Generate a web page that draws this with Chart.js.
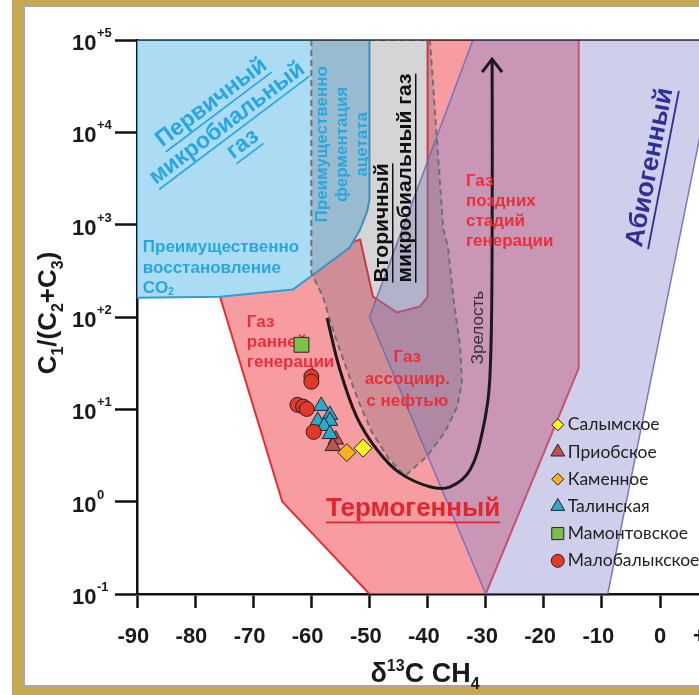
<!DOCTYPE html>
<html>
<head>
<meta charset="utf-8">
<script src="https://cdn.jsdelivr.net/npm/chart.js@4.4.1/dist/chart.umd.min.js"></script>
<style>
html, body { margin: 0; padding: 0; background: #fff; overflow: hidden; }
#wrap { position: relative; width: 699px; height: 695px; }
.gold { position: absolute; background: #c6a94f; }
#inner { position: absolute; left: 23px; top: 5px; width: 676px; height: 682px; box-sizing: border-box;
  border-left: 2px solid #a8a8a8; border-top: 2px solid #a8a8a8; border-bottom: 2px solid #a8a8a8; }
canvas { position: absolute; left: 0; top: 0; }
</style>
</head>
<body>
<div id="wrap">
  <div class="gold" style="left:12px;top:0;width:11px;height:695px"></div>
  <div class="gold" style="left:12px;top:0;width:687px;height:5px"></div>
  <div class="gold" style="left:12px;top:687px;width:687px;height:8px"></div>
  <div id="inner"></div>
  <canvas id="grafico" width="699" height="695"></canvas>
</div>
<script>
// оси
const xTicks = [-90, -80, -70, -60, -50, -40, -30, -20, -10, 0, 10];
const yTicks = [0.1, 1, 10, 100, 1000, 10000, 100000];
const yTickExp = ['-1', '0', '+1', '+2', '+3', '+4', '+5'];

// границы областей
const thermoX = [-40, -14, -14, -30, -50, -65, -76, -51.6, -49.4, -45.3, -41.3, -40, -40];
const thermoY = [1e5, 1e5, 28, 0.1, 0.1, 1.0, 190, 692, 166, 112, 130, 166, 1e5];
const abioX = [-32.2, -50, -30, -9, 10.2, -32.2];
const abioY = [1e5, 100, 0.1, 0.1, 1e5, 1e5];
const microX = [-90, -50, -50, -50.4, -51.6, -53.4, -59.4, -63.2, -75.7, -90, -90];
const microY = [1e5, 1e5, 1875, 1390, 887, 566, 296, 198, 166, 162, 1e5];
const secX = [-60, -60, -58.0, -56.3, -54.2, -52.0, -49.6, -46.8, -43.9, -40.1, -37.0, -34.9, -34.1, -34.4, -35.6, -36.5, -37.3, -39.6, -60];
const secY = [1e5, 300, 166, 73, 30.5, 12.7, 5.7, 3.0, 1.9, 3.1, 5.7, 10.7, 19.4, 48, 166, 580, 890, 1e5, 1e5];
// кривая зрелости
const matX = [-57.3, -55.1, -52.2, -48.7, -44.8, -39.6, -36.1, -32.7, -30.5, -29.3, -28.9, -28.9];
const matY = [98, 27, 8.3, 3.65, 2.05, 1.45, 1.45, 2.2, 6.0, 21, 538, 62000];

// месторождения
const salymX = [-51.1], salymY = [3.8];
const priobX = [-55.8, -56.3], priobY = [4.7, 4.0];
const kamenX = [-53.9], kamenY = [3.4];
const talinX = [-58.3, -56.8, -56.8, -58.9, -57.8, -56.8];
const talinY = [10.9, 8.7, 7.5, 7.5, 6.6, 5.4];
const mamonX = [-61.7], mamonY = [50];
const malobX = [-60.0, -60.0, -62.4, -61.4, -60.8, -59.6];
const malobY = [22.6, 19.9, 11.2, 10.7, 10.1, 5.7];

const FONT = "'Liberation Sans', Arial, sans-serif";
const BLUE = '#27a7e0', RED = '#ea2f3a';

function pts(xs, ys) { return xs.map((x, i) => ({ x: x, y: ys[i] })); }

function area(label, xs, ys, fill, line, width, dash, order) {
    return { label: label, data: pts(xs, ys), fill: 'shape', backgroundColor: fill, borderColor: line,
        borderWidth: width, borderDash: dash, pointRadius: 0, tension: 0, order: order, borderJoinStyle: 'round' };
}
function serie(label, xs, ys, style, r, color, order) {
    return { label: label, data: pts(xs, ys), showLine: false, pointStyle: style, pointRadius: r,
        backgroundColor: color, borderColor: '#2a2020', borderWidth: 1, order: order };
}

const datasets = [
    area('thermo', thermoX, thermoY, 'rgba(240,60,70,0.5)', '#ec2a2f', 2, [], 20),
    area('abio', abioX, abioY, 'rgba(140,140,210,0.42)', 'rgba(110,110,190,0.9)', 1.5, [], 19),
    area('micro', microX, microY, '#acdcf4', '#2b9fda', 2, [], 18),
    area('sec', secX, secY, 'rgba(105,105,115,0.28)', '#707070', 2, [6, 4], 17),
    { label: 'mat', data: pts(matX, matY), fill: false, borderColor: '#1a1a1a', borderWidth: 3,
      pointRadius: 0, tension: 0.35, order: 16 },
    serie('Приобское', priobX, priobY, 'triangle', 9, '#c0504d', 6),
    serie('Талинская', talinX, talinY, 'triangle', 9, '#2aa9cb', 5),
    serie('Малобалыкское', malobX, malobY, 'circle', 7.5, '#e0392a', 4),
    serie('Каменное', kamenX, kamenY, 'rectRot', 9, '#f6b31b', 3),
    serie('Салымское', salymX, salymY, 'rectRot', 9, '#fff21c', 2),
    serie('Мамонтовское', mamonX, mamonY, 'rect', 10.5, '#79c14a', 1)
];
const MAT = 4;

const legendOrder = ['Салымское', 'Приобское', 'Каменное', 'Талинская', 'Мамонтовское', 'Малобалыкское'];
const legendR = { rectRot: 6, triangle: 8, rect: 8.5, circle: 6.5 };

// подписи областей
const notes = [
    { at: [-74.5, 12530], rot: -37, lines: ['Первичный', 'микробиальный', 'газ'], first: -26, gap: 26, size: 23, color: BLUE, align: 'center', uline: true },
    { at: [-89, 566], rot: 0, lines: ['Преимущественно', 'восстановление', [['CO', 'n'], ['2', 'sub']]], first: 0, gap: 20.5, size: 17, color: BLUE, align: 'left' },
    { at: [-54.6, 7413], rot: -90, lines: ['Преимущественно', 'ферментация', 'ацетата'], first: -20, gap: 20, size: 17, color: BLUE, align: 'center' },
    { at: [-45.9, 236], rot: -90, lines: ['Вторичный', 'микробиальный газ'], first: -11.5, gap: 23, size: 21, color: '#111', align: 'left', uline: true },
    { at: [-33.4, 2944], rot: 0, lines: ['Газ', 'поздних', 'стадий', 'генерации'], first: 0, gap: 20, size: 17, color: RED, align: 'left' },
    { at: [-1.7, 4170], rot: -79, lines: ['Абиогенный'], first: 0, gap: 0, size: 26, color: '#2e3192', align: 'center', uline: true },
    { at: [-71.1, 87], rot: 0, lines: ['Газ', 'ранней', 'генерации'], first: 0, gap: 20, size: 17, color: RED, align: 'left' },
    { at: [-43.5, 36.3], rot: 0, lines: ['Газ', 'ассоциир.', 'с нефтью'], first: 0, gap: 22, size: 17, color: RED, align: 'center' },
    { at: [-31.2, 76.7], rot: -90, lines: ['Зрелость'], first: 0, gap: 0, size: 17, color: '#333', align: 'center', weight: 'normal' },
    { at: [-42.5, 0.836], rot: 0, lines: ['Термогенный'], first: 0, gap: 0, size: 26, color: '#e3262e', align: 'center', uline: true }
];
const legendAt = [-17.6, 6.8];

function richWidth(ctx, parts, size, weight) {
    let w = 0;
    for (const [t, k] of parts) {
        ctx.font = weight + ' ' + (k === 'n' ? size : Math.round(size * 0.6)) + 'px ' + FONT;
        w += ctx.measureText(t).width;
    }
    return w;
}
function richDraw(ctx, parts, x, y, size, weight) {
    for (const [t, k] of parts) {
        ctx.font = weight + ' ' + (k === 'n' ? size : Math.round(size * 0.6)) + 'px ' + FONT;
        const dy = k === 'sub' ? size * 0.25 : (k === 'sup' ? -size * 0.4 : 0);
        ctx.fillText(t, x, y + dy);
        x += ctx.measureText(t).width;
    }
    return x;
}

function drawNote(ctx, n, px, py) {
    const weight = n.weight || 'bold';
    ctx.save();
    ctx.translate(px, py);
    ctx.rotate(n.rot * Math.PI / 180);
    ctx.fillStyle = n.color;
    ctx.strokeStyle = n.color;
    ctx.textAlign = 'left';
    ctx.textBaseline = 'middle';
    n.lines.forEach(function (ln, i) {
        const y = n.first + i * n.gap;
        const parts = typeof ln === 'string' ? [[ln, 'n']] : ln;
        const w = richWidth(ctx, parts, n.size, weight);
        const x0 = n.align === 'center' ? -w / 2 : 0;
        richDraw(ctx, parts, x0, y, n.size, weight);
        if (n.uline) {
            ctx.lineWidth = Math.max(1.2, n.size / 14);
            ctx.beginPath();
            ctx.moveTo(x0, y + n.size * 0.52);
            ctx.lineTo(x0 + w, y + n.size * 0.52);
            ctx.stroke();
        }
    });
    ctx.restore();
}

function marker(ctx, style, x, y, r, fill, stroke) {
    ctx.save();
    ctx.fillStyle = fill;
    ctx.strokeStyle = stroke;
    ctx.lineWidth = 1;
    ctx.beginPath();
    if (style === 'circle') ctx.arc(x, y, r, 0, 2 * Math.PI);
    else if (style === 'rect') ctx.rect(x - r * 0.707, y - r * 0.707, r * 1.414, r * 1.414);
    else if (style === 'rectRot') { ctx.moveTo(x, y - r); ctx.lineTo(x + r, y); ctx.lineTo(x, y + r); ctx.lineTo(x - r, y); ctx.closePath(); }
    else { ctx.moveTo(x, y - r); ctx.lineTo(x + r * 0.866, y + r * 0.5); ctx.lineTo(x - r * 0.866, y + r * 0.5); ctx.closePath(); }
    ctx.fill();
    ctx.stroke();
    ctx.restore();
}

const decor = {
    id: 'decor',
    afterDatasetDraw(chart, args) {
        if (args.index !== MAT) return;
        const ctx = chart.ctx, xs = chart.scales.x, ys = chart.scales.y;
        // наконечник стрелки
        const pp = args.meta.data;
        const tip = pp[pp.length - 1];
        ctx.save();
        ctx.strokeStyle = '#1a1a1a';
        ctx.lineWidth = 3;
        ctx.lineJoin = 'miter';
        ctx.beginPath();
        ctx.moveTo(tip.x - 10, tip.y + 13);
        ctx.lineTo(tip.x, tip.y);
        ctx.lineTo(tip.x + 10, tip.y + 13);
        ctx.stroke();
        ctx.restore();
        notes.forEach(function (n) {
            drawNote(ctx, n, xs.getPixelForValue(n.at[0]), ys.getPixelForValue(n.at[1]));
        });
    },
    afterDraw(chart) {
        const ctx = chart.ctx, xs = chart.scales.x, ys = chart.scales.y, a = chart.chartArea;
        ctx.save();
        // верхняя рамка
        ctx.strokeStyle = '#333';
        ctx.lineWidth = 1.5;
        ctx.beginPath();
        ctx.moveTo(a.left, a.top);
        ctx.lineTo(a.right, a.top);
        ctx.stroke();

        ctx.fillStyle = '#1a1a1a';
        ctx.textBaseline = 'alphabetic';
        // подписи оси Y
        yTicks.forEach(function (v, i) {
            const ty = ys.getPixelForValue(v);
            richDraw(ctx, [['10', 'n']], a.left - 65, ty + 10, 22, 'bold');
            ctx.font = 'bold 13px ' + FONT;
            ctx.fillText(yTickExp[i], a.left - 40, ty - 3);
        });
        // подписи оси X
        ctx.font = 'bold 22px ' + FONT;
        xTicks.forEach(function (v) {
            const tx = xs.getPixelForValue(v);
            const digits = String(Math.abs(v));
            const w = ctx.measureText(digits).width;
            ctx.textAlign = 'center';
            ctx.fillText(digits, tx, a.bottom + 49);
            if (v !== 0) {
                ctx.textAlign = 'right';
                ctx.fillText(v < 0 ? '-' : '+', tx - w / 2, a.bottom + 49);
            }
        });
        ctx.textAlign = 'left';
        // заголовок оси X
        const xt = [['δ', 'n'], ['13', 'sup'], ['C CH', 'n'], ['4', 'sub']];
        const xw = richWidth(ctx, xt, 27, 'bold');
        richDraw(ctx, xt, 425 - xw / 2, a.bottom + 88, 27, 'bold');
        // заголовок оси Y
        const yt = [['C', 'n'], ['1', 'sub'], ['/(C', 'n'], ['2', 'sub'], ['+C', 'n'], ['3', 'sub'], [')', 'n']];
        const yw = richWidth(ctx, yt, 26, 'bold');
        ctx.translate(a.left - 90, ys.getPixelForValue(100) - 4);
        ctx.rotate(-Math.PI / 2);
        richDraw(ctx, yt, -yw / 2, 9, 26, 'bold');
        ctx.restore();

        // легенда
        const lx = xs.getPixelForValue(legendAt[0]);
        const ly = ys.getPixelForValue(legendAt[1]);
        ctx.save();
        ctx.font = '17.5px Lato, ' + FONT;
        ctx.textBaseline = 'middle';
        ctx.fillStyle = '#222';
        legendOrder.forEach(function (name, i) {
            const ds = chart.data.datasets.find(function (d) { return d.label === name; });
            const y = ly + i * 27.2;
            marker(ctx, ds.pointStyle, lx, y, legendR[ds.pointStyle], ds.backgroundColor, ds.borderColor);
            ctx.fillText(name, lx + 10, y);
        });
        ctx.restore();
    }
};

function configurarGrafico() {
    const ctx = document.getElementById('grafico').getContext('2d');
    new Chart(ctx, {
        type: 'line',
        data: { datasets: datasets },
        options: {
            responsive: false,
            animation: false,
            events: [],
            layout: { autoPadding: false, padding: { top: 40, left: 0, right: 0, bottom: 0 } },
            plugins: { legend: { display: false }, tooltip: { enabled: false } },
            scales: {
                x: {
                    type: 'linear', min: -90, max: 6.7, z: 1,
                    afterBuildTicks: function (s) { s.ticks = xTicks.filter(function (v) { return v <= 0; }).map(function (v) { return { value: v }; }); },
                    afterFit: function (s) { s.height = 101; },
                    ticks: { display: false },
                    grid: { drawOnChartArea: false, drawTicks: true, tickLength: 14, tickColor: '#111', tickWidth: 2.5 },
                    border: { display: true, color: '#111', width: 2.5 }
                },
                y: {
                    type: 'logarithmic', min: 0.1, max: 1e5, z: 1,
                    afterBuildTicks: function (s) { s.ticks = yTicks.map(function (v) { return { value: v }; }); },
                    afterFit: function (s) { s.width = 137; },
                    ticks: { display: false },
                    grid: { drawOnChartArea: false, drawTicks: true, tickLength: 22, tickColor: '#111', tickWidth: 2.5 },
                    border: { display: true, color: '#111', width: 2.5 }
                }
            }
        },
        plugins: [decor]
    });
}

window.onload = function () {
    configurarGrafico();
};
</script>
</body>
</html>
